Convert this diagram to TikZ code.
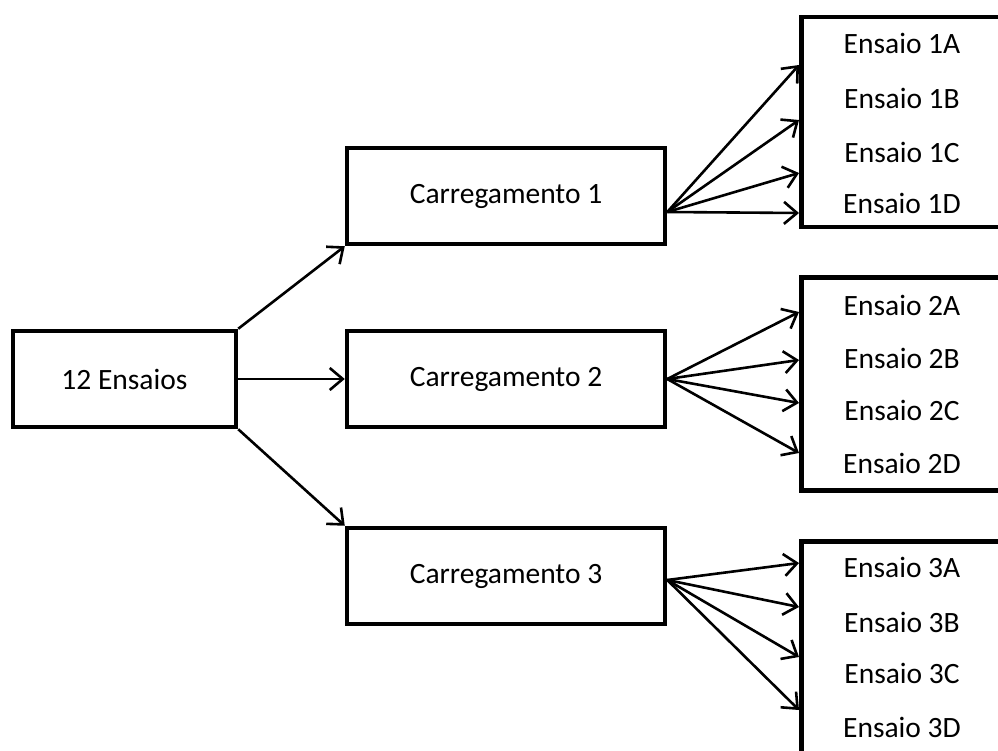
\documentclass[tikz,border=0pt]{standalone}
\usepackage{fontspec}
\setmainfont{Carlito}
\usetikzlibrary{arrows.meta, positioning}

\begin{document}
\begin{tikzpicture}[
    x=1pt, y=-1pt, % pixel-like units, y grows downwards
    >={Straight Barb[length=13pt, width=22pt]}, % open arrow tip
    box/.style={draw, line width=4.5pt, minimum width=318pt, minimum height=96pt, inner sep=0pt}, % main boxes
    grpbox/.style={draw, line width=4.5pt, anchor=north west, minimum width=240pt, inner sep=0pt}, % test groups
    conn/.style={->, line width=2.6pt}, % connectors
    label/.style={font=\fontsize{29.5}{33}\selectfont} % text style
]

    % --- Page frame ---
    \clip (0,0) rectangle (998,751);
    \fill[white] (0,0) rectangle (998,751);

    % --- Root and loadings ---
    \node[box, minimum width=223pt, label] (root) at (124.5,379) {12 Ensaios};
    \node[box, label] (c1) at (506,196) {Carregamento 1};
    \node[box, label] (c2) at (506,379) {Carregamento 2};
    \node[box, label] (c3) at (506,576) {Carregamento 3};

    \draw[conn] (root.north east) -- (c1.south west);
    \draw[conn] (root.east) -- (c2.west);
    \draw[conn] (root.south east) -- (c3.north west);

    % --- Test groups (cut off by page edge) ---
    \node[grpbox, minimum height=210pt] (g1) at (799,15) {};
    \node[grpbox, minimum height=213pt] (g2) at (799,275) {};
    \node[grpbox, minimum height=260pt] (g3) at (799,539) {};

    % --- Test labels ---
    \foreach \l/\y in {A/43, B/98, C/152, D/203}
        \node[label] (e1\l) at (902,\y) {Ensaio 1\l};
    \foreach \l/\y in {A/305, B/358, C/410, D/463}
        \node[label] (e2\l) at (902,\y) {Ensaio 2\l};
    \foreach \l/\y in {A/567, B/622, C/673, D/727}
        \node[label] (e3\l) at (902,\y) {Ensaio 3\l};

    % --- Arrow targets on group edges ---
    \foreach \l/\y in {A/65, B/120, C/173, D/213}
        \coordinate (t1\l) at (g1.west |- 0,\y);
    \foreach \l/\y in {A/312, B/360, C/403, D/453}
        \coordinate (t2\l) at (g2.west |- 0,\y);
    \foreach \l/\y in {A/563, B/607, C/657, D/710}
        \coordinate (t3\l) at (g3.west |- 0,\y);

    \coordinate (s1) at ([yshift=-16pt]c1.east);
    \coordinate (s2) at (c2.east);
    \coordinate (s3) at ([yshift=-4pt]c3.east);

    \foreach \g in {1,2,3}
        \foreach \l in {A,B,C,D}
            \draw[conn] (s\g) -- (t\g\l);

\end{tikzpicture}
\end{document}
